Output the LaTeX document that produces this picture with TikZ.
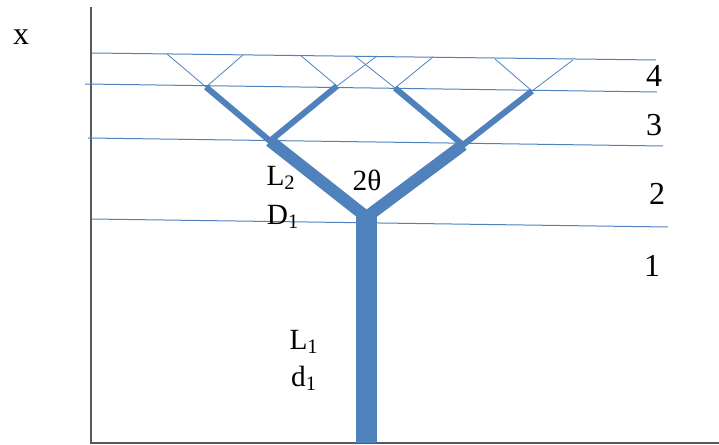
\documentclass[tikz,border=0pt]{standalone}
\usepackage{fontspec}
\setmainfont{Liberation Serif}
\definecolor{treeblue}{HTML}{4F81BD}
\begin{document}
\begin{tikzpicture}[x=0.75pt,y=-0.75pt,
  axis/.style={draw=black!65,line width=0.9pt},
  level/.style={draw=treeblue,line width=0.75pt},
  twig/.style={draw=treeblue,line width=0.6pt},
  br3/.style={draw=treeblue,line width=4.5pt},
  br2/.style={draw=treeblue,line width=9pt},
  trunk/.style={draw=treeblue,line width=15.5pt},
  lab/.style={font=\fontsize{22}{24}\selectfont,inner sep=0pt},
  num/.style={font=\fontsize{24}{26}\selectfont,inner sep=0pt}]
\useasboundingbox (0,0) rectangle (719,445);
% axes
\coordinate (o) at (91,443);
\coordinate (ytop) at (91,7);
\coordinate (xend) at (719,443);
\draw[axis] (ytop) -- (o) -- (xend);
% level lines
\coordinate (h1a) at (92,53);  \coordinate (h1b) at (656,60);
\coordinate (h2a) at (85,84);  \coordinate (h2b) at (657,92);
\coordinate (h3a) at (88,138); \coordinate (h3b) at (663,146);
\coordinate (h4a) at (91,219); \coordinate (h4b) at (668,227);
\draw[level] (h1a) -- (h1b);
\draw[level] (h2a) -- (h2b);
\draw[level] (h3a) -- (h3b);
\draw[level] (h4a) -- (h4b);
% tree junctions
\coordinate (base) at (366.5,443);
\coordinate (ttop) at (366.5,212);
\coordinate (j0) at (366.5,217);
\coordinate (jl) at (270,141);
\coordinate (jr) at (463,145);
\coordinate (jll) at (206,87);
\coordinate (jlr) at (337,86);
\coordinate (jrl) at (395,88);
\coordinate (jrr) at (532,91);
% twig tips
\coordinate (t1) at (167,54); \coordinate (t2) at (243,55);
\coordinate (t3) at (300,55); \coordinate (t4) at (377,56);
\coordinate (t5) at (356,57); \coordinate (t6) at (433,57);
\coordinate (t7) at (495,59); \coordinate (t8) at (573,60);
% twigs
\draw[twig] (t1) -- (jll) -- (t2);
\draw[twig] (t3) -- (jlr) -- (t4);
\draw[twig] (t5) -- (jrl) -- (t6);
\draw[twig] (t7) -- (jrr) -- (t8);
% level 3 branches
\draw[br3] (jll) -- (jl) -- (jlr);
\draw[br3] (jrl) -- (jr) -- (jrr);
% level 2 branches
\draw[br2] (jl) -- (j0) -- (jr);
% trunk
\draw[trunk] (base) -- (ttop);
% labels
\node[num] (lx) at (21,37) {x};
\node[num] (l4) at (654,76) {4};
\node[num] (l3) at (654,125) {3};
\node[num] (l2) at (657,194) {2};
\node[num] (l1) at (652,266) {1};
\node[lab] (L2) at (281,178) {L\textsubscript{2}};
\node[lab] (D1) at (283,217) {D\textsubscript{1}};
\node[lab] (th) at (367,180) {2θ};
\node[lab] (L1) at (304,342) {L\textsubscript{1}};
\node[lab] (d1) at (304,378) {d\textsubscript{1}};
\end{tikzpicture}
\end{document}
